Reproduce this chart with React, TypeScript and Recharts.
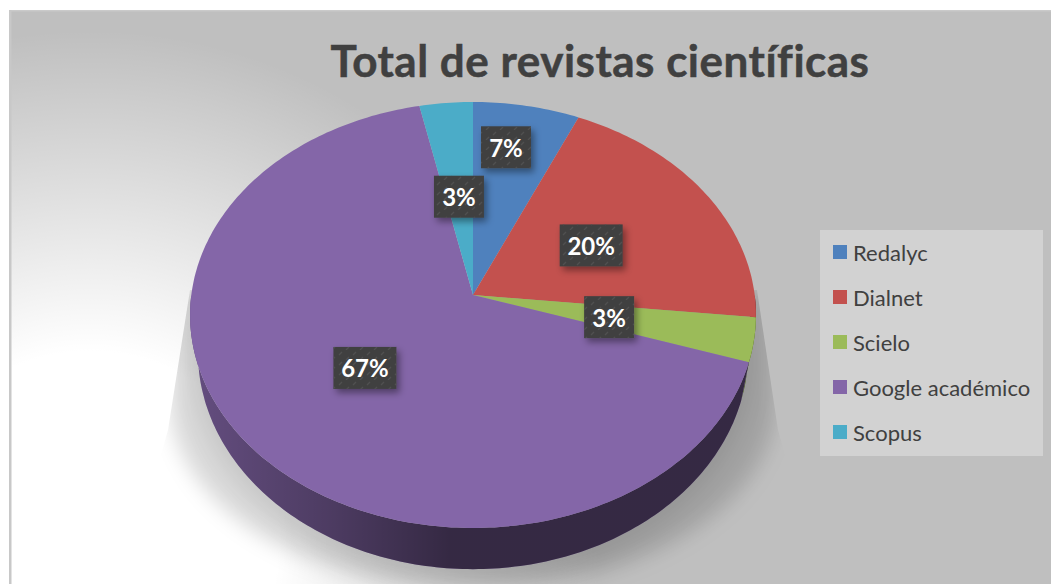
import { Legend, Pie, PieChart } from 'recharts';

const CATEGORIES = ['Redalyc', 'Dialnet', 'Scielo', 'Google académico', 'Scopus'];
const REVISTAS = [2, 6, 1, 20, 1];
const COLORS = ['#4f81bd', '#c3514e', '#9bbb59', '#8466a8', '#4bacc8'];

const TITLE = 'Total de revistas científicas';
const FONT = 'Lato, Carlito, sans-serif';

const CHART_DATA = CATEGORIES.map((name, i) => ({ name, value: REVISTAS[i], fill: COLORS[i] }));

// the original is a tilted 3D pie, so the circle goes through a small perspective map
const CX = 473;
const CY = 295;
const RADIUS_X = 281.7;
const RADIUS_Y = 211.1;
const TILT = 0.0939;
const DEPTH = 37;

// labels were nudged by hand in the original, the first one a lot
const LABEL_NUDGE = [
    [5, -49],
    [-1, 2],
    [-3, 0],
    [0, 0],
    [0, 2],
];

const project = (angle: number, r = 1, sx = 1, sy = 1, drop = 0) => {
    const rad = (angle * Math.PI) / 180;
    const w = 1 + TILT * r * Math.sin(rad);
    return {
        x: CX + (sx * RADIUS_X * r * Math.cos(rad)) / w,
        y: CY + drop - (sy * RADIUS_Y * r * Math.sin(rad)) / w,
    };
};

const arcPoints = (from: number, to: number, sx = 1, sy = 1, drop = 0) => {
    const steps = Math.max(1, Math.ceil(Math.abs(to - from)));
    const pts = [];
    for (let i = 0; i <= steps; i++) {
        const p = project(from + ((to - from) * i) / steps, 1, sx, sy, drop);
        pts.push(`${p.x.toFixed(1)} ${p.y.toFixed(1)}`);
    }
    return pts;
};

function Slice3D(props: any) {
    const { startAngle, endAngle, fill } = props;
    const top = `M${CX} ${CY} L${arcPoints(startAngle, endAngle).join(' L')} Z`;

    // side wall only exists on the front half
    const wallFrom = Math.min(startAngle, 0);
    const wallTo = Math.max(endAngle, -180);
    let wall = null;
    if (wallFrom > wallTo) {
        const upper = arcPoints(wallFrom, wallTo);
        const lower = arcPoints(wallTo, wallFrom, 0.972, 1.018, DEPTH);
        const d = `M${upper.join(' L')} L${lower.join(' L')} Z`;
        wall = (
            <>
                <path d={d} fill={fill} />
                <path d={d} fill="url(#wallShade)" />
            </>
        );
    }

    return (
        <g>
            {wall}
            <path d={top} fill={fill} />
        </g>
    );
}

function PercentLabel(props: any) {
    const { midAngle, percent, index } = props;
    const text = `${Math.round(percent * 100)}%`;
    const p = project(midAngle, 0.5);
    const x = p.x + LABEL_NUDGE[index][0];
    const y = p.y + LABEL_NUDGE[index][1];
    const w = text.length > 2 ? 63 : 50;
    return (
        <g>
            <rect x={x - w / 2} y={y - 21} width={w} height={42} fill="#404040" filter="url(#boxShadow)" />
            <rect x={x - w / 2} y={y - 21} width={w} height={42} fill="url(#boxTexture)" />
            <text
                x={x}
                y={y + 9.5}
                textAnchor="middle"
                fontFamily={FONT}
                fontWeight={700}
                fontSize={24}
                fill="#ffffff"
            >
                {text}
            </text>
        </g>
    );
}

function LegendBox({ payload }: any) {
    return (
        <div style={{ width: 223, height: 226, background: '#d2d2d2', position: 'relative' }}>
            {(payload || []).map((item: any, i: number) => (
                <div
                    key={item.value}
                    style={{
                        position: 'absolute',
                        left: 13,
                        top: 22 + i * 45 - 14,
                        height: 28,
                        display: 'flex',
                        alignItems: 'center',
                        fontFamily: FONT,
                        fontSize: 22,
                        color: '#404040',
                        whiteSpace: 'nowrap',
                    }}
                >
                    <span style={{ width: 14, height: 14, background: item.color, marginRight: 6 }} />
                    {item.value}
                </div>
            ))}
        </div>
    );
}

function Backdrop() {
    return (
        <svg width={1051} height={584} style={{ position: 'absolute', left: 0, top: 0 }}>
            <defs>
                <radialGradient id="glow" gradientUnits="userSpaceOnUse" cx={90} cy={540} r={510}>
                    <stop offset="0.37" stopColor="#ffffff" stopOpacity={1} />
                    <stop offset="1" stopColor="#ffffff" stopOpacity={0} />
                </radialGradient>
                <filter id="soft" x="-20%" y="-20%" width="140%" height="140%">
                    <feGaussianBlur stdDeviation={10} />
                </filter>
                <clipPath id="shadowClip">
                    <polygon points="190,290 168,430 120,600 826,600 778,430 757,290" />
                </clipPath>
            </defs>
            <rect x={0} y={0} width={1051} height={584} fill="#ffffff" />
            <rect x={9} y={10} width={1042} height={574} fill="#bfbfbf" />
            <rect x={9} y={10} width={1042} height={574} fill="url(#glow)" />
            <rect x={9} y={10} width={1042} height={1.5} fill="#cacaca" />
            <rect x={9} y={10} width={2.5} height={574} fill="#c8c8c8" />
            <g clipPath="url(#shadowClip)">
                <path
                    d="M170 290 H776 V400 A303 190 0 0 1 170 400 Z"
                    fill="#000000"
                    fillOpacity={0.15}
                    filter="url(#soft)"
                />
                <ellipse cx={473} cy={362} rx={282} ry={218} fill="#000000" fillOpacity={0.08} filter="url(#soft)" />
            </g>
        </svg>
    );
}

export default function App() {
    return (
        <div style={{ position: 'absolute', left: 0, top: 0, width: 1051, height: 584, overflow: 'hidden' }}>
            <Backdrop />
            <div style={{ position: 'absolute', left: 0, top: 0 }}>
                <PieChart width={1051} height={584} margin={{ top: 0, right: 0, bottom: 0, left: 0 }}>
                    <defs>
                        <linearGradient id="wallShade" gradientUnits="userSpaceOnUse" x1={190} y1={0} x2={756} y2={0}>
                            <stop offset="0" stopColor="#000000" stopOpacity={0.24} />
                            <stop offset="0.25" stopColor="#000000" stopOpacity={0.42} />
                            <stop offset="0.46" stopColor="#000000" stopOpacity={0.6} />
                            <stop offset="1" stopColor="#000000" stopOpacity={0.6} />
                        </linearGradient>
                        <filter id="boxShadow" x="-30%" y="-30%" width="170%" height="170%">
                            <feDropShadow dx={3} dy={4} stdDeviation={3.5} floodColor="#000000" floodOpacity={0.4} />
                        </filter>
                        <pattern id="boxTexture" patternUnits="userSpaceOnUse" width={14} height={10}>
                            <path d="M3 5 L6 2 M10 10 L13 7" stroke="#505050" strokeWidth={1.2} />
                        </pattern>
                    </defs>
                    <text
                        x={600}
                        y={77}
                        textAnchor="middle"
                        fontFamily={FONT}
                        fontWeight={700}
                        fontSize={44}
                        letterSpacing={0.5}
                        stroke="#404040"
                        strokeWidth={0.5}
                        fill="#404040"
                    >
                        {TITLE}
                    </text>
                    <Pie
                        data={CHART_DATA}
                        dataKey="value"
                        nameKey="name"
                        cx={CX}
                        cy={CY}
                        outerRadius={283}
                        startAngle={90}
                        endAngle={-270}
                        stroke="none"
                        shape={Slice3D}
                        label={PercentLabel}
                        labelLine={false}
                        isAnimationActive={false}
                    />
                    <Legend
                        layout="vertical"
                        itemSorter={null}
                        content={LegendBox}
                        wrapperStyle={{ position: 'absolute', left: 820, top: 230, width: 223, height: 226 }}
                    />
                </PieChart>
            </div>
        </div>
    );
}
